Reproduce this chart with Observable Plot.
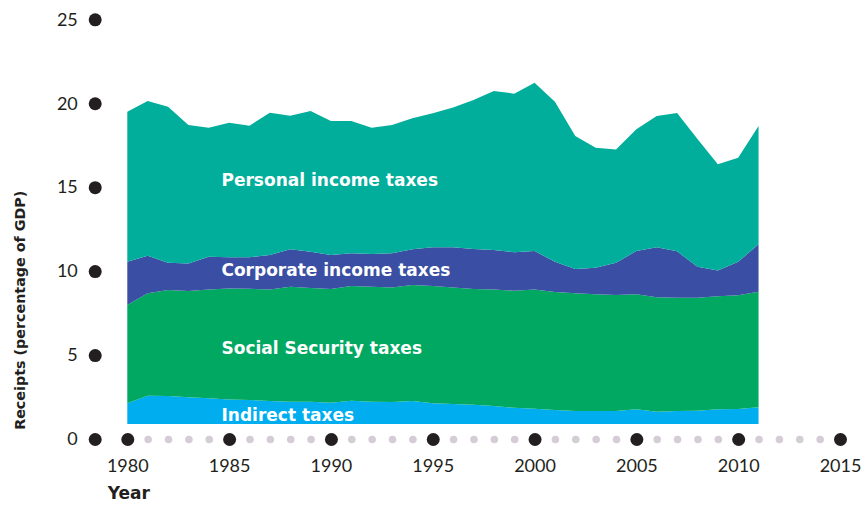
<!DOCTYPE html>
<html>
<head>
<meta charset="utf-8">
<script src="https://cdn.jsdelivr.net/npm/d3@7"></script>
<script src="https://cdn.jsdelivr.net/npm/@observablehq/plot@0.6"></script>
<style>
  html, body { margin: 0; padding: 0; background: #ffffff; }
  #chart svg { display: block; }
</style>
</head>
<body>
<div id="chart"></div>
<script>
// ---- Data (receipts, percentage of GDP) ----
const years = [1980,1981,1982,1983,1984,1985,1986,1987,1988,1989,1990,1991,1992,1993,1994,1995,
               1996,1997,1998,1999,2000,2001,2002,2003,2004,2005,2006,2007,2008,2009,2010,2011];
const indirectTaxes = [1.24,1.69,1.67,1.59,1.53,1.47,1.43,1.37,1.33,1.33,1.27,1.39,1.33,1.31,1.37,1.24,
                       1.19,1.15,1.08,0.97,0.91,0.84,0.78,0.78,0.78,0.88,0.74,0.78,0.80,0.88,0.90,1.00];
const socialSecurityTaxes = [5.85,6.10,6.31,6.33,6.49,6.61,6.63,6.65,6.85,6.77,6.77,6.83,6.85,6.83,6.91,6.98,
                             6.95,6.89,6.94,6.97,7.11,7.02,7.01,6.95,6.91,6.85,6.81,6.75,6.73,6.73,6.77,6.88];
const corporateIncomeTaxes = [2.58,2.24,1.63,1.65,1.95,1.85,1.87,2.05,2.23,2.17,2.03,1.95,1.95,2.03,2.13,2.31,
                              2.39,2.39,2.35,2.29,2.29,1.81,1.44,1.58,1.92,2.58,2.98,2.76,1.84,1.53,2.00,2.83];
const personalIncomeTaxes = [8.93,9.21,9.29,8.24,7.68,8.02,7.84,8.47,7.96,8.38,7.98,7.88,7.52,7.64,7.80,7.98,
                             8.33,8.88,9.47,9.45,10.02,9.53,7.93,7.15,6.75,7.25,7.82,8.24,7.61,6.33,6.19,7.04];
const areaBase = 0.89; // level at which the stacked areas start

const seriesNames = ["Indirect taxes","Social Security taxes","Corporate income taxes","Personal income taxes"];
const seriesColors = ["#00aeef","#00a862","#3a4fa3","#00ae9b"];
const seriesValues = [indirectTaxes, socialSecurityTaxes, corporateIncomeTaxes, personalIncomeTaxes];

// label positions (in data units)
const labelYear = 1984.6;
const labelLevels = [1.45, 5.4, 10.05, 15.4];

const yTicks = [0,5,10,15,20,25];
const xMajorTicks = [1980,1985,1990,1995,2000,2005,2010,2015];
const xMinorTicks = d3.range(1980, 2016).filter(y => y % 5 !== 0);

// ---- Build stacked rows ----
const rows = [];
years.forEach((yr, i) => {
  let acc = areaBase;
  seriesValues.forEach((vals, s) => {
    const y1 = acc, y2 = acc + vals[i];
    rows.push({year: yr, series: seriesNames[s], y1, y2});
    acc = y2;
  });
});

const labels = seriesNames.map((name, i) => ({name, x: labelYear, y: labelLevels[i]}));

const ink = "#231f20";
const boldFont = "'DejaVu Sans', sans-serif";

const chart = Plot.plot({
  width: 868,
  height: 506,
  marginLeft: 127.3,
  marginRight: 28,
  marginTop: 19.3,
  marginBottom: 67,
  style: {fontFamily: "Lato, 'Open Sans', sans-serif", background: "#ffffff"},
  x: {domain: [1980, 2015], axis: null},
  y: {domain: [0, 25], axis: null},
  color: {domain: seriesNames, range: seriesColors},
  marks: [
    Plot.areaY(rows, {x: "year", y1: "y1", y2: "y2", z: "series", fill: "series", curve: "linear"}),
    Plot.text(labels, {x: "x", y: "y", text: "name", textAnchor: "start", fill: "#ffffff",
                       fontWeight: "bold", fontSize: 17, fontFamily: boldFont}),
    // y axis dots & labels
    Plot.dot(yTicks, {frameAnchor: "left", y: d => d, dx: -32.6, r: 6.5, fill: ink, stroke: "none"}),
    Plot.text(yTicks, {frameAnchor: "left", y: d => d, dx: -50, text: d => String(d), textAnchor: "end",
                       fill: ink, fontSize: 18}),
    // x axis dots & labels
    Plot.dot(xMinorTicks, {x: d => d, y: () => 0, r: 3.8, fill: "#d5cdd5", stroke: "none"}),
    Plot.dot(xMajorTicks, {x: d => d, y: () => 0, r: 6.5, fill: ink, stroke: "none"}),
    Plot.text(xMajorTicks, {x: d => d, y: () => 0, dy: 27, text: d => String(d), fill: ink, fontSize: 18}),
    // axis titles
    Plot.text(["Year"], {x: () => 1980, y: () => 0, dy: 54, dx: -20, textAnchor: "start",
                         fontWeight: "bold", fontSize: 17, fill: ink, fontFamily: boldFont}),
    Plot.text(["Receipts (percentage of GDP)"], {frameAnchor: "left", y: () => 7.7, dx: -107, rotate: -90,
                         textAnchor: "middle", fontWeight: "bold", fontSize: 14.3, fill: ink, fontFamily: boldFont})
  ]
});

document.getElementById("chart").appendChild(chart);
</script>
</body>
</html>
